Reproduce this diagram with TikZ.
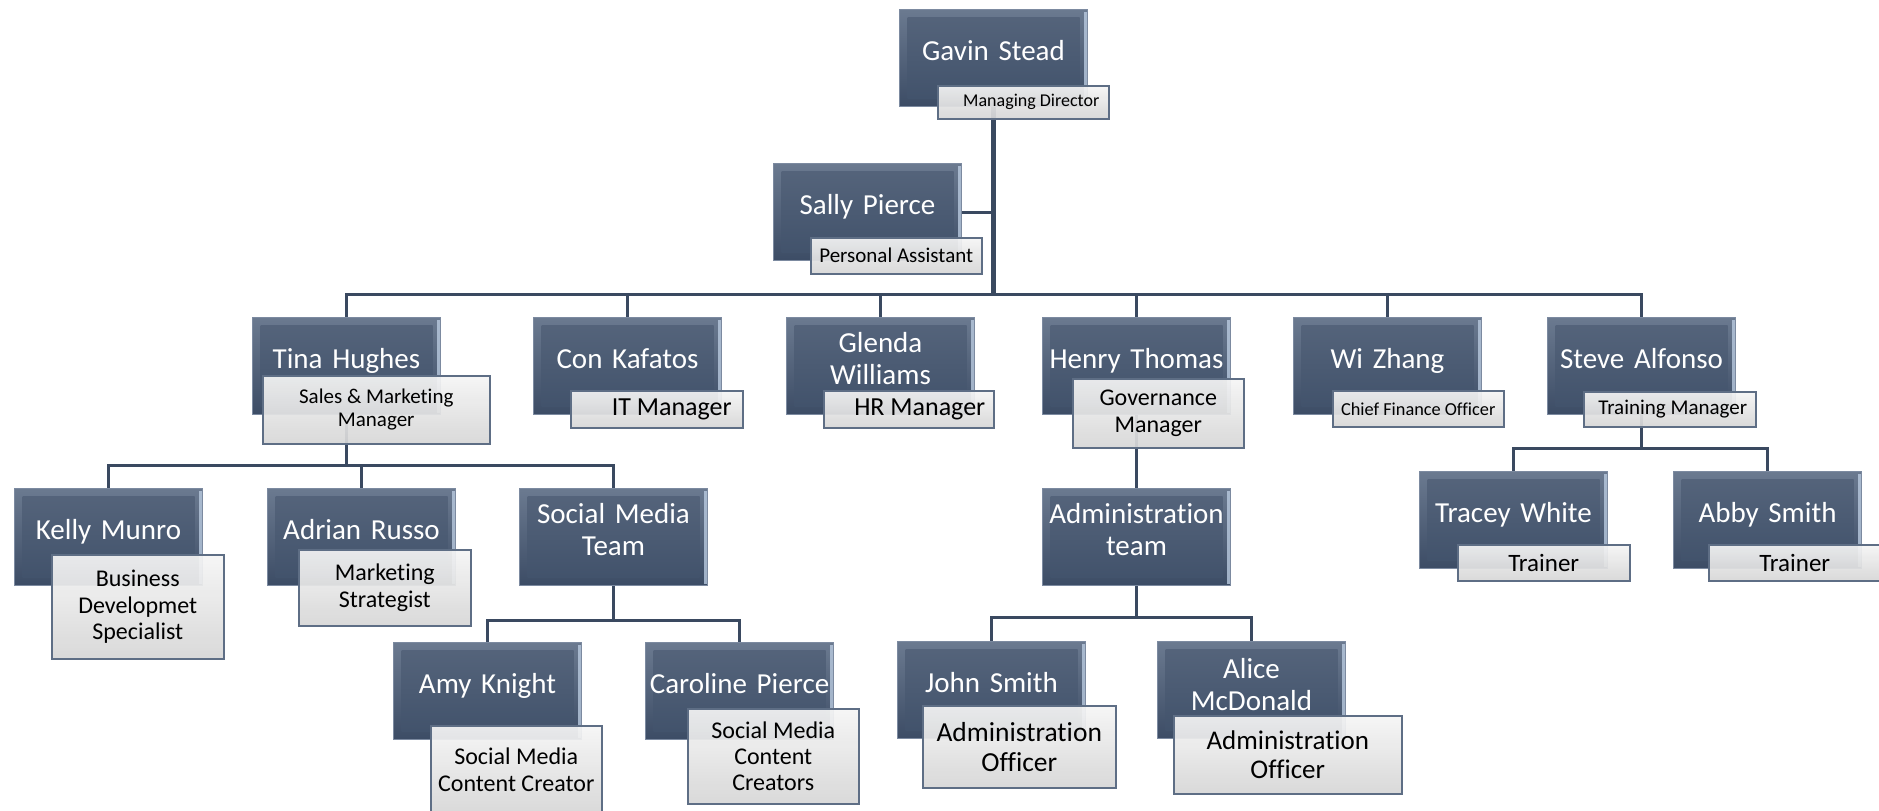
\documentclass[tikz,border=0pt]{standalone}
\usepackage{fontspec}
\setmainfont{Carlito}[Ligatures={NoCommon}]
\usetikzlibrary{calc}
\definecolor{lineC}{HTML}{3A4960}
\definecolor{boxTop}{HTML}{6B7A90}
\definecolor{boxBot}{HTML}{3C4C65}
\definecolor{boxInTop}{HTML}{56657C}
\definecolor{boxInBot}{HTML}{40516A}
\definecolor{boxEdge}{HTML}{7C8AA0}
\definecolor{hiEdge}{HTML}{B9CADF}
\definecolor{roleEdge}{HTML}{5E6E85}
\definecolor{roleTop}{HTML}{F5F5F5}
\definecolor{roleBot}{HTML}{D6D6D6}
\pgfdeclarelayer{bg}
\pgfsetlayers{bg,main}
\tikzset{
  namebox/.style={rectangle, anchor=north west, minimum width=188pt, minimum height=97pt,
    inner sep=0pt, draw=boxEdge, line width=1pt, top color=boxTop, bottom color=boxBot,
    path picture={
      \shade[top color=boxInTop, bottom color=boxInBot]
        ([shift={(8pt,-8pt)}]path picture bounding box.north west) rectangle
        ([shift={(-8pt,8pt)}]path picture bounding box.south east);
      \fill[hiEdge, opacity=0.8]
        ([shift={(-4pt,-2pt)}]path picture bounding box.north east) rectangle
        ([shift={(-1pt,2pt)}]path picture bounding box.south east);
    }},
  rolebox/.style={rectangle, anchor=north west, inner sep=0pt, draw=roleEdge, line width=1.5pt,
    top color=roleTop, bottom color=roleBot, fill opacity=0.93, text opacity=1,
    align=center, text=black},
  nametext/.style={anchor=base, text=white, font=\fontsize{29}{32}\selectfont,
    text width=200pt, align=center, inner sep=0pt},
  conn/.style={draw=lineC, line width=3pt},
  trunk/.style={draw=lineC, line width=5pt},
}
\newcommand{\fs}[1]{\fontsize{#1}{\dimexpr #1pt*11/10\relax}\selectfont}
\begin{document}
\begin{tikzpicture}[x=1pt, y=-1pt]
\useasboundingbox (0,0) rectangle (1879,811);
\clip (0,0) rectangle (1879,811);
\coordinate (b1) at (0,294);
\coordinate (b2) at (0,465);
\coordinate (b3) at (0,620);
\coordinate (b4) at (0,617);
\coordinate (b5) at (0,448);

% ---- level 0 / 1
\node[namebox] (gavin) at (899,9) {};
\node[nametext] (gavinN) at ([yshift=-51pt]gavin.north) {Gavin Stead};
\node[rolebox, minimum width=171pt, minimum height=33pt, font=\fs{18}] (gavinL) at (937,85) {\hspace*{16pt}Managing Director};

\node[namebox] (sally) at (773,163) {};
\node[nametext] (sallyN) at ([yshift=-51pt]sally.north) {Sally Pierce};
\node[rolebox, minimum width=171pt, minimum height=36pt, font=\fs{21}] (sallyL) at (810,237) {Personal Assistant};

% ---- level 2
\node[namebox] (tina) at (252,317) {};
\node[nametext] (tinaN) at ([yshift=-51pt]tina.north) {Tina Hughes};
\node[rolebox, minimum width=227pt, minimum height=68pt, font=\fs{21}] (tinaL) at (262,375) {Sales \& Marketing\\Manager};

\node[namebox] (con) at (533,317) {};
\node[nametext] (conN) at ([yshift=-51pt]con.north) {Con Kafatos};
\node[rolebox, minimum width=172pt, minimum height=37pt, font=\fs{26}] (conL) at (570,390) {\hspace*{30pt}IT Manager};

\node[namebox] (glenda) at (786,317) {};
\node[nametext] (glendaN) at ([yshift=-35pt]glenda.north) {Glenda\\Williams};
\node[rolebox, minimum width=170pt, minimum height=37pt, font=\fs{26}] (glendaL) at (823,390) {\hspace*{22pt}HR Manager};

\node[namebox] (henry) at (1042,317) {};
\node[nametext] (henryN) at ([yshift=-51pt]henry.north) {Henry Thomas};
\node[rolebox, minimum width=171pt, minimum height=69pt, font=\fs{24}] (henryL) at (1072,378) {Governance\\Manager};

\node[namebox] (wi) at (1293,317) {};
\node[nametext] (wiN) at ([yshift=-51pt]wi.north) {Wi Zhang};
\node[rolebox, minimum width=171pt, minimum height=36pt, font=\fs{18.3}] (wiL) at (1332,390) {Chief Finance Officer};

\node[namebox] (steve) at (1547,317) {};
\node[nametext] (steveN) at ([yshift=-51pt]steve.north) {Steve Alfonso};
\node[rolebox, minimum width=172pt, minimum height=35pt, font=\fs{21}] (steveL) at (1583,391) {\hspace*{6pt}Training Manager};

% ---- level 3
\node[namebox] (kelly) at (14,488) {};
\node[nametext] (kellyN) at ([yshift=-51pt]kelly.north) {Kelly Munro};
\node[rolebox, minimum width=172pt, minimum height=104pt, font=\fs{24}] (kellyL) at (51,554) {Business\\Developmet\\Specialist};

\node[namebox] (adrian) at (267,488) {};
\node[nametext] (adrianN) at ([yshift=-51pt]adrian.north) {Adrian Russo};
\node[rolebox, minimum width=172pt, minimum height=76pt, font=\fs{24}] (adrianL) at (298,549) {Marketing\\Strategist};

\node[namebox] (smt) at (519,488) {};
\node[nametext] (smtN) at ([yshift=-35pt]smt.north) {Social Media\\Team};

\node[namebox] (admin) at (1042,488) {};
\node[nametext] (adminN) at ([yshift=-35pt]admin.north) {Administration\\team};

\node[namebox] (tracey) at (1419,471) {};
\node[nametext] (traceyN) at ([yshift=-51pt]tracey.north) {Tracey White};
\node[rolebox, minimum width=172pt, minimum height=36pt, font=\fs{25}] (traceyL) at (1457,544) {Trainer};

\node[namebox] (abby) at (1673,471) {};
\node[nametext] (abbyN) at ([yshift=-51pt]abby.north) {Abby Smith};
\node[rolebox, minimum width=172pt, minimum height=36pt, font=\fs{25}] (abbyL) at (1708,544) {Trainer};

% ---- level 4
\node[namebox] (amy) at (393,642) {};
\node[nametext] (amyN) at ([yshift=-51pt]amy.north) {Amy Knight};
\node[rolebox, minimum width=171pt, minimum height=88pt, font=\fs{24}] (amyL) at (430,725) {Social Media\\Content Creator};

\node[namebox] (caroline) at (645,642) {};
\node[nametext] (carolineN) at ([yshift=-51pt]caroline.north) {Caroline Pierce};
\node[rolebox, minimum width=171pt, minimum height=95pt, font=\fs{24}] (carolineL) at (687,708) {Social Media\\Content\\Creators};

\node[namebox] (john) at (897,641) {};
\node[nametext] (johnN) at ([yshift=-51pt]john.north) {John Smith};
\node[rolebox, minimum width=193pt, minimum height=82pt, font=\fs{27.5}] (johnL) at (922,705) {Administration\\Officer};

\node[namebox] (alice) at (1157,641) {};
\node[nametext] (aliceN) at ([yshift=-37pt]alice.north) {Alice\\McDonald};
\node[rolebox, minimum width=228pt, minimum height=78pt, font=\fs{27}] (aliceL) at (1173,715) {Administration\\Officer};

% ---- connectors
\begin{pgfonlayer}{bg}
  \draw[trunk] (gavin.center) -- (gavin |- b1);
  \draw[conn] (sally.east) -- (sally.east -| gavin);
  \draw[conn] (tina.north) -- (tina |- b1) -- (steve |- b1) -- (steve.north);
  \draw[conn] (con.north) -- (con |- b1);
  \draw[conn] (glenda.north) -- (glenda |- b1);
  \draw[conn] (henry.north) -- (henry |- b1);
  \draw[conn] (wi.north) -- (wi |- b1);
  % Tina's team
  \draw[conn] (tina.center) -- (tina |- b2);
  \draw[conn] (kelly.north) -- (kelly |- b2) -- (smt |- b2) -- (smt.north);
  \draw[conn] (adrian.north) -- (adrian |- b2);
  % social media team
  \draw[conn] (smt.center) -- (smt |- b3);
  \draw[conn] (amy.north) -- (amy |- b3) -- (caroline |- b3) -- (caroline.north);
  % Henry -> admin
  \draw[conn] (henry.center) -- (admin.center);
  \draw[conn] (admin.center) -- (admin |- b4);
  \draw[conn] (john.north) -- (john |- b4) -- (alice |- b4) -- (alice.north);
  % Steve's team
  \draw[conn] (steve.center) -- (steve |- b5);
  \draw[conn] (tracey.north) -- (tracey |- b5) -- (abby |- b5) -- (abby.north);
\end{pgfonlayer}
\end{tikzpicture}
\end{document}
